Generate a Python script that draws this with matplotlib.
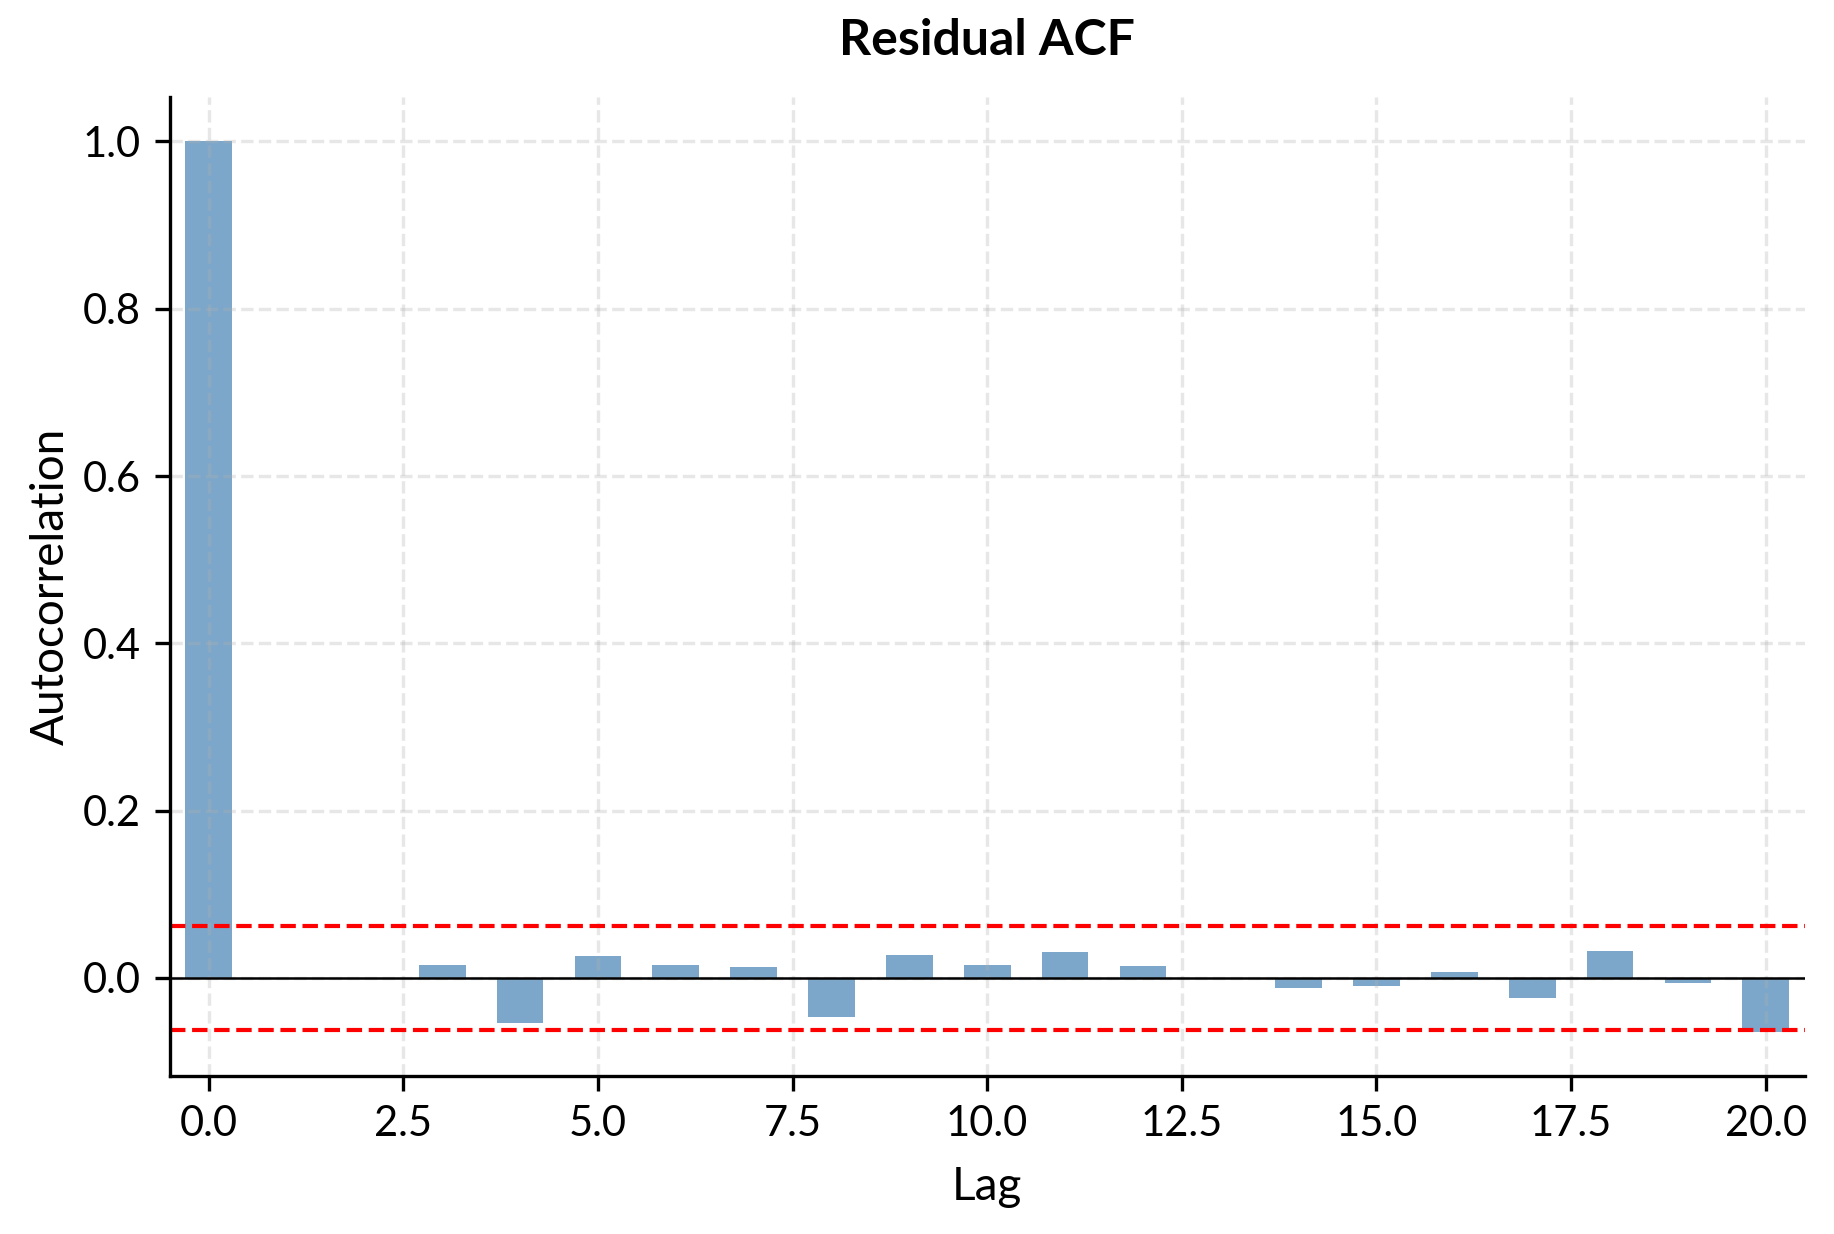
import matplotlib
matplotlib.use("Agg")
import matplotlib.pyplot as plt
import numpy as np

plt.rcParams['font.family'] = ['Lato', 'DejaVu Sans']

lags = list(range(21))
acf_values = [1.0, 0.0, 0.0, 0.0152, -0.0538, 0.0259, 0.0152, 0.0128, -0.0467,
              0.0271, 0.0152, 0.0307, 0.0140, 0.0, -0.0120, -0.0096, 0.0068,
              -0.0239, 0.0319, -0.0060, -0.0642]
conf_bound = 0.062

fig = plt.figure(figsize=(1834/300, 1234/300), dpi=300)
ax = fig.add_axes([0.0925, 0.128, 0.8915, 0.7934])

ax.bar(lags, acf_values, width=0.6, color='steelblue', alpha=0.7)
ax.axhline(0, color='black', linewidth=0.6)
ax.axhline(conf_bound, color='red', linestyle='--', linewidth=1.0)
ax.axhline(-conf_bound, color='red', linestyle='--', linewidth=1.0)

ax.set_xlim(-0.5, 20.5)
ax.set_title('Residual ACF', fontsize=12, fontweight='bold', pad=10)
ax.set_xlabel('Lag', fontsize=11, labelpad=5.5)
ax.set_ylabel('Autocorrelation', fontsize=11, labelpad=2.6)
ax.tick_params(labelsize=10)
ax.grid(True, linestyle='--', alpha=0.3, linewidth=0.8)
ax.spines['top'].set_visible(False)
ax.spines['right'].set_visible(False)

fig.savefig('out.png', dpi=300)
